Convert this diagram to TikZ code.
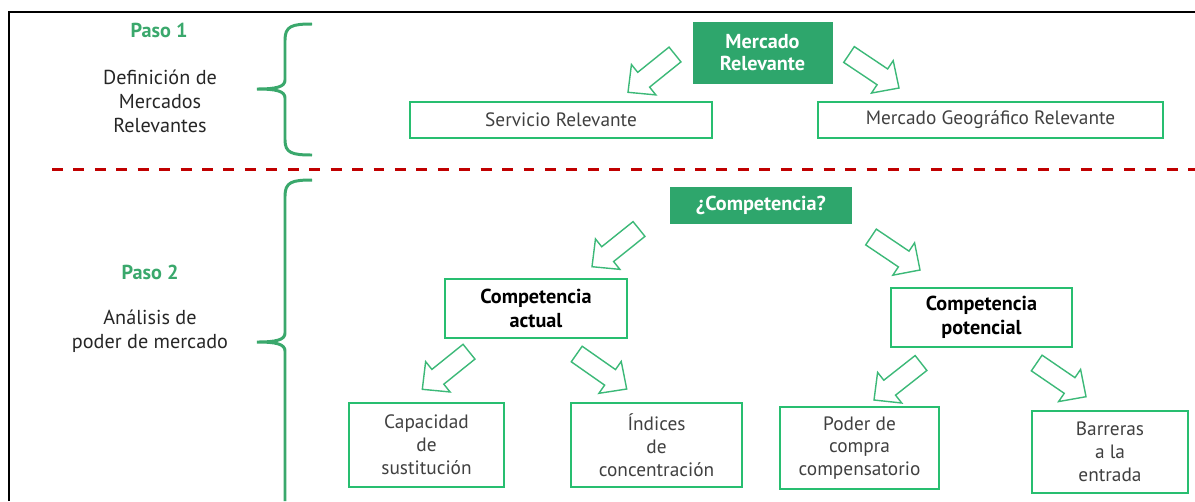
\documentclass[tikz,border=0pt]{standalone}
\usepackage{fontspec}
\setmainfont{PT Sans}
\usepackage{tikz}
\usetikzlibrary{calc}

\definecolor{pasogreen}{RGB}{58,168,108}
\definecolor{boxgreen}{RGB}{40,190,112}
\definecolor{fillgreen}{RGB}{46,166,108}
\definecolor{arrowgreen}{RGB}{60,185,120}
\definecolor{dashred}{RGB}{192,0,0}
\definecolor{textgray}{RGB}{64,64,64}

% hollow block arrow from tail point to tip point
\newcommand{\blockarrow}[2]{%
\draw[arrowgreen, line width=0.8pt, fill=white, line join=miter]
  ($(#1)!0.19cm!90:(#2)$) -- ($(#1)!0.667!(#2)!0.19cm!90:(#2)$) -- ($(#1)!0.667!(#2)!0.39cm!90:(#2)$)
  -- (#2) -- ($(#1)!0.667!(#2)!0.39cm!-90:(#2)$) -- ($(#1)!0.667!(#2)!0.19cm!-90:(#2)$)
  -- ($(#1)!0.19cm!-90:(#2)$) -- cycle;}

\begin{document}
\begin{tikzpicture}[x=0.02cm, y=-0.02cm,
  plainbox/.style={draw=boxgreen, line width=1.1pt, align=center, text=textgray, inner sep=0pt,
    font=\fontsize{11}{13}\selectfont},
  boldbox/.style={plainbox, text=black, font=\fontsize{11.5}{13.5}\selectfont\bfseries},
  filledbox/.style={fill=fillgreen, draw=fillgreen, text=white, align=center, inner sep=0pt,
    font=\fontsize{11.5}{13}\selectfont\bfseries},
  pasotext/.style={text=pasogreen, font=\fontsize{11.5}{13.5}\selectfont\bfseries},
  sidetext/.style={align=center, text=black!85, font=\fontsize{11.5}{13.6}\selectfont},
  brace/.style={pasogreen, line width=1.7pt}]
\useasboundingbox (0,0) rectangle (1195,501);
% frame (cut off right and bottom)
\draw[line width=1.2pt] (9,501) -- (9,12) -- (1195,12);
\draw[dashred, line width=1.7pt, dash pattern=on 6.2pt off 6pt] (52,169) -- (1195,169);

% step 1
\node[pasotext] (paso1) at (159,30) {Paso 1};
\node[sidetext] (def) at (160,101) {Definición de\\Mercados\\Relevantes};
\draw[brace] (312,24) .. controls (292,24) and (285,26) .. (285,40) -- (285,80)
  .. controls (285,87) and (276,89) .. (257,89) .. controls (276,89) and (285,91) .. (285,98)
  -- (285,140) .. controls (285,153) and (292,155) .. (312,155);
\node[filledbox, minimum width=2.78cm, minimum height=1.22cm] (merc) at (762.5,52.5) {Mercado\\Relevante};
\node[plainbox, minimum width=6.04cm, minimum height=0.72cm] (serv) at (561,120) {Servicio Relevante};
\node[plainbox, minimum width=6.9cm, minimum height=0.72cm] (geo) at (990.5,120) {Mercado Geográfico Relevante};

% step 2
\node[pasotext] (paso2) at (150,272) {Paso 2};
\node[sidetext] (ana) at (150,331.5) {Análisis de\\poder de mercado};
\draw[brace] (312,180) .. controls (292,180) and (285,182) .. (285,196) -- (285,333)
  .. controls (285,340) and (276,342) .. (257,342) .. controls (276,342) and (285,344) .. (285,351)
  -- (285,501);
\node[filledbox, minimum width=3.62cm, minimum height=0.72cm] (comp) at (761,205) {¿Competencia?};
\node[boldbox, minimum width=3.64cm, minimum height=1.18cm] (actual) at (536,308.5) {Competencia\\actual};
\node[boldbox, minimum width=3.62cm, minimum height=1.18cm] (potencial) at (981.5,317.5) {Competencia\\potencial};
\node[plainbox, minimum width=3.1cm, minimum height=1.68cm] (sust) at (426.5,445) {Capacidad\\de\\sustitución};
\node[plainbox, minimum width=3.42cm, minimum height=1.68cm] (indices) at (656.5,445) {Índices\\de\\concentración};
\node[plainbox, minimum width=3.18cm, minimum height=1.64cm] (poder) at (859.5,448) {Poder de\\compra\\compensatorio};
\node[plainbox, minimum width=3.12cm, minimum height=1.64cm] (barreras) at (1110,452) {Barreras\\a la\\entrada};

\foreach \i/\tail/\tip in {1/{675,54.5}/{628,92.3}, 2/{849,54.5}/{899,88}, 3/{639,229}/{592,266.7},
  4/{871,237}/{920,270}, 5/{469,351.7}/{422.3,389.3}, 6/{576.7,354}/{626.7,389},
  7/{921,363}/{874,400}, 8/{1036.7,363}/{1086,396.7}} {
  \coordinate (tail\i) at (\tail); \coordinate (tip\i) at (\tip);
  \blockarrow{tail\i}{tip\i}
}
\end{tikzpicture}
\end{document}
